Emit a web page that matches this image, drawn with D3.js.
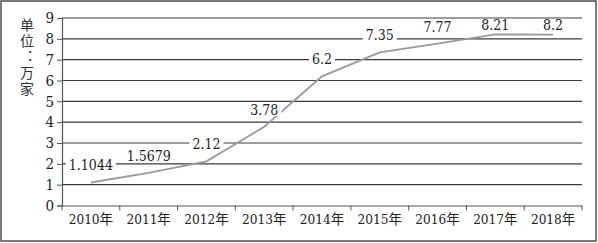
<!DOCTYPE html>
<html><head><meta charset="utf-8">
<script src="https://cdn.jsdelivr.net/npm/d3@7"></script>
<style>body{margin:0;background:#fff}svg{display:block}</style>
</head><body>
<svg id="c" width="598" height="243"></svg>
<script>
const years = ["2010年","2011年","2012年","2013年","2014年","2015年","2016年","2017年","2018年"];
const values = [1.1044, 1.5679, 2.12, 3.78, 6.2, 7.35, 7.77, 8.21, 8.2];
const valueLabels = ["1.1044","1.5679","2.12","3.78","6.2","7.35","7.77","8.21","8.2"];
const yTicks = [0,1,2,3,4,5,6,7,8,9];
const yTitle = "单位：万家";

const svg = d3.select("#c");
const fontNum = '"DejaVu Serif","Noto Sans CJK SC",serif';
svg.append("rect").attr("x",1).attr("y",1).attr("width",595).attr("height",240)
  .attr("fill","#fff").attr("stroke","#333").attr("stroke-width",1.3);

const L=62, R=582, T=18, B=205.5;
const x = d3.scaleBand().domain(years).range([L,R]);
const y = d3.scaleLinear().domain([0,9]).range([B,T]);

svg.append("g").selectAll("line").data(yTicks.filter(d=>d>0)).join("line")
  .attr("x1",L).attr("x2",R).attr("y1",d=>y(d)).attr("y2",d=>y(d))
  .attr("stroke","#3a3a3a").attr("stroke-width",1.2);

const ya = svg.append("g").attr("transform",`translate(${L},0)`)
  .call(d3.axisLeft(y).tickValues(yTicks).tickSize(5).tickPadding(3));
ya.attr("font-family",null).attr("font-size",null);
ya.select(".domain").attr("stroke","#555").attr("stroke-width",1.2);
ya.selectAll(".tick line").attr("stroke","#555");
ya.selectAll("text").style("font-family",fontNum).style("font-size","15px")
  .style("font-stretch","condensed").attr("fill","#222");

const xa = svg.append("g").attr("transform",`translate(0,${B})`)
  .call(d3.axisBottom(x).tickSize(0).tickPadding(9));
xa.attr("font-family",null).attr("font-size",null);
xa.select(".domain").attr("stroke","#555").attr("stroke-width",1.2);
xa.selectAll("text").style("font-family",fontNum).style("font-size","13.5px")
  .style("font-stretch","condensed").attr("fill","#222");
svg.append("g").selectAll("line").data(years.concat([null])).join("line")
  .attr("x1",(d,i)=>L+i*x.step()).attr("x2",(d,i)=>L+i*x.step())
  .attr("y1",B).attr("y2",B+5).attr("stroke","#555");

const cx = d=>x(d)+x.bandwidth()/2;
svg.append("path").datum(values)
  .attr("d", d3.line().x((d,i)=>cx(years[i])).y(d=>y(d)))
  .attr("fill","none").attr("stroke","#9a9a9a").attr("stroke-width",1.8);

const lg = svg.append("g");
values.forEach((v,i)=>{
  const px = cx(years[i]);
  const py = Math.max(y(v)-17, 25);
  const t = lg.append("text").attr("x",px).attr("y",py).attr("dy","0.35em")
    .attr("text-anchor","middle").style("font-family",fontNum).style("font-size","14px")
    .style("font-stretch","condensed").attr("fill","#222").text(valueLabels[i]);
  const bb = t.node().getBBox();
  lg.insert("rect","text").attr("x",bb.x-3).attr("y",bb.y+2).attr("width",bb.width+6)
    .attr("height",bb.height-4).attr("fill","#fff");
});

svg.append("text").attr("x",27).attr("y",18)
  .style("font-family","'Noto Sans CJK SC',sans-serif").style("font-size","14px")
  .style("writing-mode","vertical-rl").style("letter-spacing","2px")
  .attr("fill","#333").text(yTitle);
</script>
</body></html>
